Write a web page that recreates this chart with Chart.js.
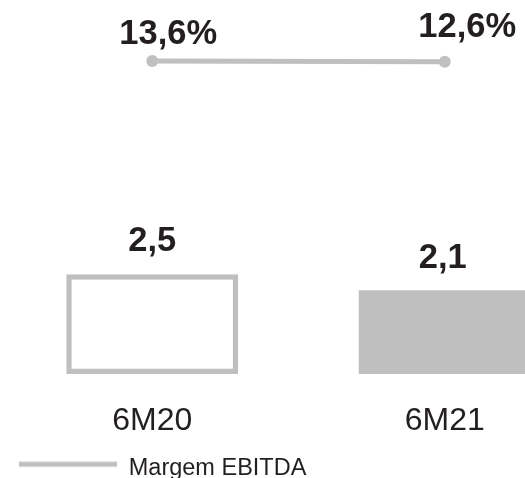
<!DOCTYPE html>
<html>
<head>
<meta charset="utf-8">
<script src="https://cdn.jsdelivr.net/npm/chart.js@4/dist/chart.umd.min.js"></script>
<style>
  html, body { margin: 0; padding: 0; background: #fff; overflow: hidden; width: 525px; height: 478px; }
  canvas { display: block; }
</style>
</head>
<body>
<canvas id="c" width="597" height="490"></canvas>
<script>
// Periods and figures
const periods = ['6M20', '6M21'];
const ebitda = [2.5, 2.1];          // EBITDA (bars)
const ebitdaMargin = [13.6, 12.6];  // Margem EBITDA, % (line)
const marginLabel = 'Margem EBITDA';

const FONT = '"Liberation Sans", Arial, Helvetica, sans-serif';
const TEXT = '#231f20';
const GREY = '#bfbfbf';
const LINE_GREY = '#c0c0c0';

const fmt = (v, suffix) => v.toFixed(1).replace('.', ',') + (suffix || '');

// Legend swatch: a thick grey stroke sitting a little above the text middle
function legendSwatch() {
  const c = document.createElement('canvas');
  c.width = 98;
  c.height = 20;
  const g = c.getContext('2d');
  g.strokeStyle = LINE_GREY;
  g.lineWidth = 5;
  g.beginPath();
  g.moveTo(0, 6);
  g.lineTo(98, 6);
  g.stroke();
  return c;
}

// Draws the value above each bar and next to each line point
const valueLabels = {
  id: 'valueLabels',
  afterDatasetsDraw(chart, args, opts) {
    const ctx = chart.ctx;
    ctx.save();
    ctx.font = opts.font;
    ctx.fillStyle = opts.color;
    ctx.textAlign = 'center';
    ctx.textBaseline = 'middle';
    chart.data.datasets.forEach((ds, di) => {
      const meta = chart.getDatasetMeta(di);
      const offsets = opts.offsets[di];
      const suffix = opts.suffix[di];
      meta.data.forEach((el, i) => {
        const [dx, dy] = offsets[i];
        ctx.fillText(fmt(ds.data[i], suffix), el.x + dx, el.y + dy);
      });
    });
    ctx.restore();
  }
};

const swatch = legendSwatch();

new Chart(document.getElementById('c'), {
  data: {
    labels: periods,
    datasets: [
      {
        type: 'line',
        label: marginLabel,
        data: ebitdaMargin,
        yAxisID: 'y2',
        borderColor: LINE_GREY,
        backgroundColor: LINE_GREY,
        borderWidth: 5,
        pointRadius: 6,
        pointBorderWidth: 0,
        pointBackgroundColor: LINE_GREY,
        order: 0
      },
      {
        type: 'bar',
        label: 'EBITDA',
        data: ebitda,
        yAxisID: 'y',
        backgroundColor: ['#ffffff', GREY],
        borderColor: [GREY, GREY],
        borderWidth: [5.5, 0],
        borderSkipped: false,
        categoryPercentage: 1,
        barPercentage: 0.588,
        order: 1
      }
    ]
  },
  options: {
    responsive: false,
    animation: false,
    devicePixelRatio: 1,
    layout: { padding: { left: 6, right: 6, top: 15, bottom: 0 } },
    scales: {
      x: {
        grid: { display: false },
        border: { display: false },
        ticks: { color: TEXT, padding: 20, font: { family: FONT, size: 32 } },
        afterFit: (scale) => { scale.height = 69.5; }
      },
      y: { display: false, min: 0, max: 9 },
      y2: { display: false, min: -433.5, max: 79.5 }
    },
    plugins: {
      tooltip: { enabled: false },
      legend: {
        position: 'bottom',
        align: 'start',
        labels: {
          usePointStyle: true,
          pointStyleWidth: 98,
          padding: 13,
          color: TEXT,
          font: { family: FONT, size: 23.5 },
          generateLabels: (chart) =>
            Chart.defaults.plugins.legend.labels.generateLabels(chart)
              .filter((item) => item.text === marginLabel)
              .map((item) => Object.assign(item, { pointStyle: swatch }))
        }
      },
      valueLabels: {
        font: 'bold 34.5px ' + FONT,
        color: TEXT,
        suffix: ['%', ''],
        offsets: [
          [[16, -26.5], [22.5, -34.5]],
          [[0, -32.5], [-2, -32]]
        ]
      }
    }
  },
  plugins: [valueLabels]
});
</script>
</body>
</html>
